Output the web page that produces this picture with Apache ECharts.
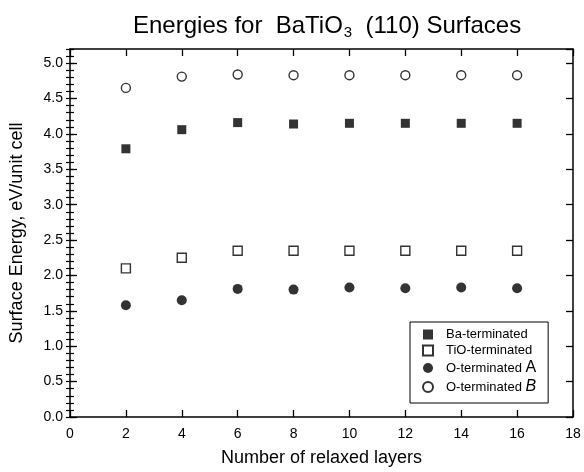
<!DOCTYPE html>
<html>
<head>
<meta charset="utf-8">
<script src="https://cdn.jsdelivr.net/npm/echarts@6/dist/echarts.min.js"></script>
<style>
    html, body { margin: 0; padding: 0; background: #fff; }
    #main { width: 584px; height: 472px; }
</style>
</head>
<body>
<div id="main"></div>
<script>
// data
var layers = [2, 4, 6, 8, 10, 12, 14, 16];
var baTerm = [3.79, 4.06, 4.16, 4.14, 4.15, 4.15, 4.15, 4.15];
var tioTerm = [2.10, 2.25, 2.35, 2.35, 2.35, 2.35, 2.35, 2.35];
var oTermA = [1.58, 1.65, 1.81, 1.80, 1.83, 1.82, 1.83, 1.82];
var oTermB = [4.65, 4.81, 4.84, 4.83, 4.83, 4.83, 4.83, 4.83];
var seriesNames = ['Ba-terminated', 'TiO-terminated', 'O-terminated A', 'O-terminated B'];

var FONT = '"Liberation Sans", Arial, sans-serif';

function pairs(ys) {
    var out = [];
    for (var i = 0; i < layers.length; i++) {
        out.push([layers[i], ys[i]]);
    }
    return out;
}

function frameAxis(pos, extra) {
    var ax = {
        type: 'value',
        position: pos,
        axisLine: { show: true, onZero: false, lineStyle: { color: '#000', width: 1.5 } },
        axisTick: { show: true, inside: true, length: 7, lineStyle: { color: '#000', width: 1.3 } },
        axisLabel: { show: false },
        splitLine: { show: false }
    };
    for (var k in extra) ax[k] = extra[k];
    return ax;
}

var myChart = echarts.init(document.getElementById('main'));

var option = {
    backgroundColor: '#fff',
    animation: false,
    title: {
        text: '{a|Energies for  BaTiO}{sub|3}{a|  (110) Surfaces}',
        left: 128,
        top: 8,
        textStyle: {
            fontWeight: 'normal',
            rich: {
                a: { fontFamily: FONT, fontSize: 24, fontWeight: 'normal', color: '#000' },
                sub: { fontFamily: FONT, fontSize: 15, fontWeight: 'normal', color: '#000', padding: [12, 0, 0, 1] }
            }
        }
    },
    grid: { left: 69, right: 11, top: 49, bottom: 54 },
    legend: {
        orient: 'vertical',
        left: 410,
        top: 322,
        padding: [6, 12, 8, 12],
        itemGap: 3,
        itemWidth: 10,
        itemHeight: 10,
        borderColor: '#000',
        borderWidth: 1,
        backgroundColor: '#fff',
        data: seriesNames,
        formatter: function (name) {
            if (/ A$/.test(name)) return name.slice(0, -1) + '{a|A}';
            if (/ B$/.test(name)) return name.slice(0, -1) + '{b|B}';
            return name;
        },
        textStyle: {
            fontFamily: FONT,
            fontSize: 13,
            color: '#000',
            padding: [0, 0, 0, 8],
            rich: {
                a: { fontFamily: FONT, fontSize: 16, color: '#000' },
                b: { fontFamily: FONT, fontSize: 16, fontStyle: 'italic', color: '#000' }
            }
        }
    },
    xAxis: [
        frameAxis('bottom', {
            min: 0, max: 18, interval: 2,
            name: 'Number of relaxed layers',
            nameLocation: 'middle',
            nameGap: 32,
            nameTextStyle: { fontFamily: FONT, fontSize: 18, color: '#000' },
            axisLabel: { show: true, margin: 10, fontFamily: FONT, fontSize: 14, color: '#000' }
        }),
        frameAxis('top', { min: 0, max: 18, interval: 2 })
    ],
    yAxis: [
        frameAxis('left', {
            min: 0, max: 5.2, interval: 0.5,
            name: 'Surface Energy, eV/unit cell',
            nameLocation: 'middle',
            nameGap: 44,
            nameTextStyle: { fontFamily: FONT, fontSize: 18, color: '#000' },
            axisLabel: {
                show: true, margin: 7, showMaxLabel: false,
                fontFamily: FONT, fontSize: 14, color: '#000',
                formatter: function (v) { return v.toFixed(1); }
            }
        }),
        // minor ticks, left
        frameAxis('left', {
            min: 0, max: 5.2, interval: 0.1,
            axisLine: { show: false },
            axisTick: { show: true, inside: true, length: 4, lineStyle: { color: '#000', width: 1.2 } }
        }),
        frameAxis('right', { min: 0, max: 5.2, interval: 0.5 }),
        // minor ticks, right
        frameAxis('right', {
            min: 0, max: 5.2, interval: 0.1,
            axisLine: { show: false },
            axisTick: { show: true, inside: true, length: 4, lineStyle: { color: '#000', width: 1.2 } }
        })
    ],
    series: [
        {
            name: seriesNames[0],
            type: 'scatter',
            symbol: 'rect',
            symbolSize: 9,
            itemStyle: { color: '#000' },
            data: pairs(baTerm)
        },
        {
            name: seriesNames[1],
            type: 'scatter',
            symbol: 'rect',
            symbolSize: 9,
            itemStyle: { color: '#fff', borderColor: '#000', borderWidth: 1.4 },
            data: pairs(tioTerm)
        },
        {
            name: seriesNames[2],
            type: 'scatter',
            symbol: 'circle',
            symbolSize: 10,
            itemStyle: { color: '#000' },
            data: pairs(oTermA)
        },
        {
            name: seriesNames[3],
            type: 'scatter',
            symbol: 'circle',
            symbolSize: 9,
            itemStyle: { color: '#fff', borderColor: '#000', borderWidth: 1.4 },
            data: pairs(oTermB)
        }
    ]
};

myChart.setOption(option);
</script>
</body>
</html>
